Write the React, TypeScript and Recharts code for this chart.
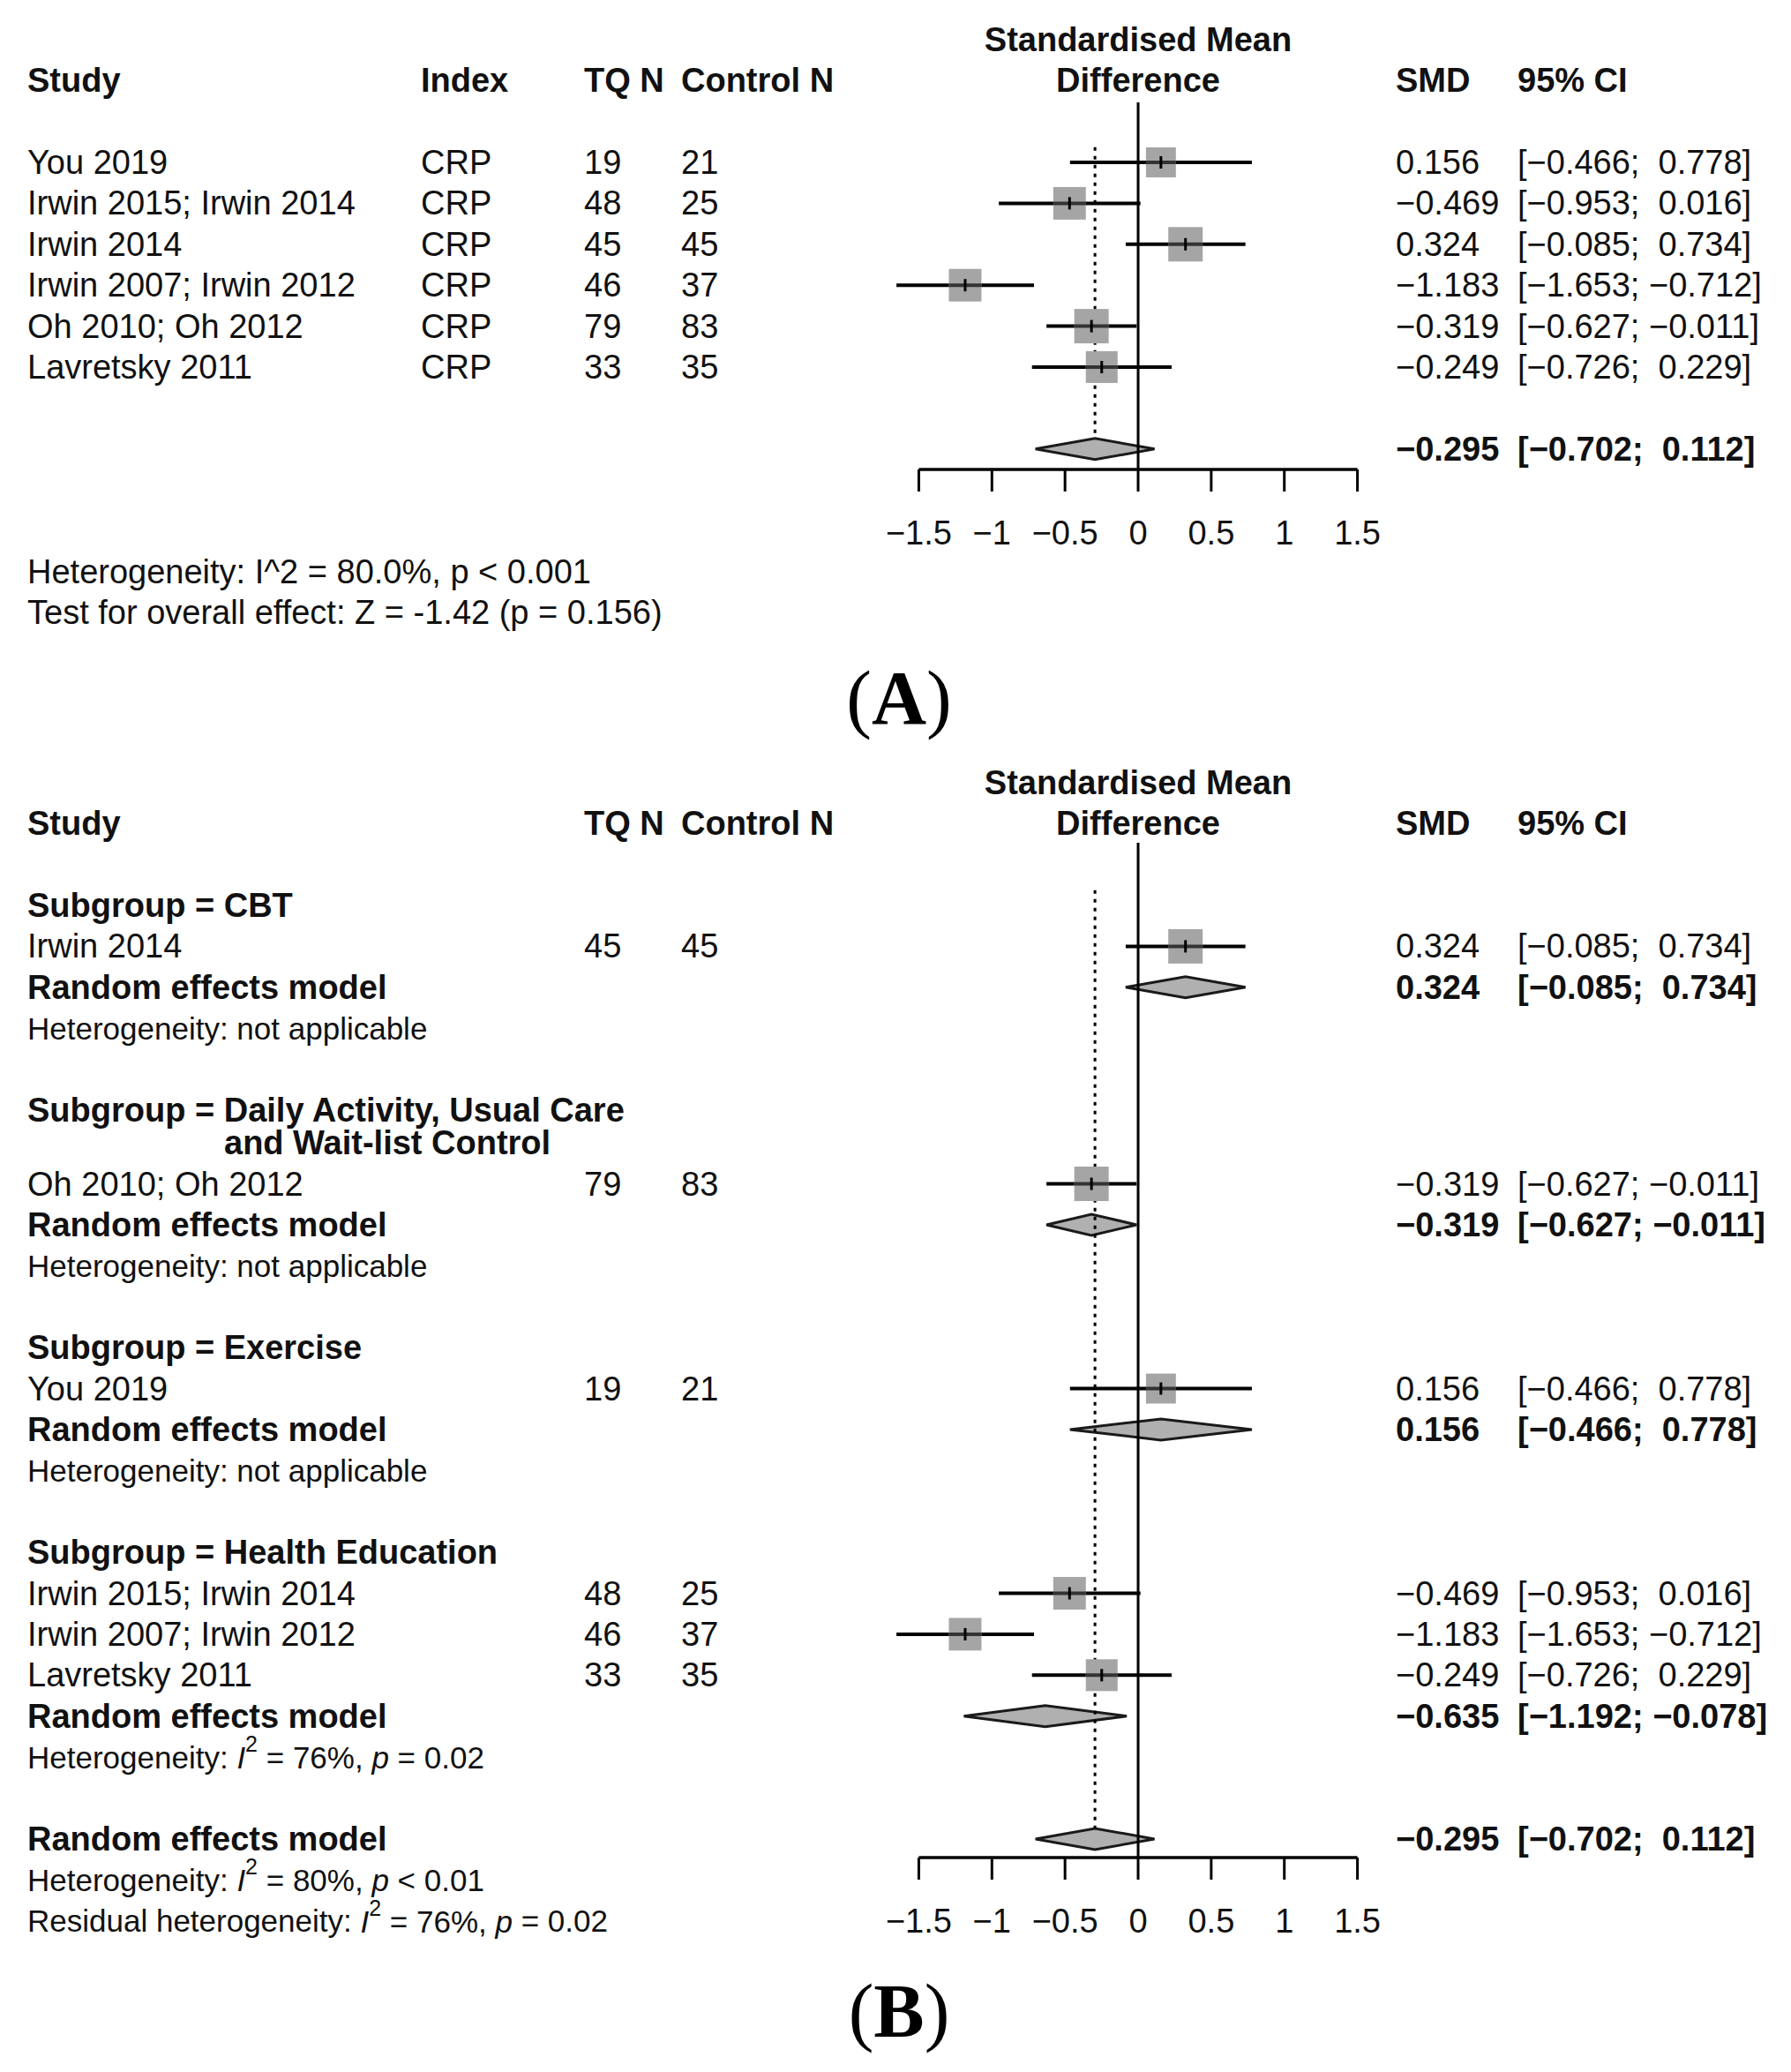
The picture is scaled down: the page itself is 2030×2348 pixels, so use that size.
import React from 'react';
import { ComposedChart, Scatter, ErrorBar, XAxis, YAxis, ReferenceLine, ReferenceArea } from 'recharts';

// ---- data ----
const studies = ['You 2019', 'Irwin 2015; Irwin 2014', 'Irwin 2014', 'Irwin 2007; Irwin 2012', 'Oh 2010; Oh 2012', 'Lavretsky 2011'];
const indexLabels = ['CRP', 'CRP', 'CRP', 'CRP', 'CRP', 'CRP'];
const tqN = [19, 48, 45, 46, 79, 33];
const controlN = [21, 25, 45, 37, 83, 35];
const smd = [0.156, -0.469, 0.324, -1.183, -0.319, -0.249];
const ciLower = [-0.466, -0.953, -0.085, -1.653, -0.627, -0.726];
const ciUpper = [0.778, 0.016, 0.734, -0.712, -0.011, 0.229];
const weights = [14.0, 16.6, 18.5, 16.6, 18.5, 15.8]; // estimated from square sizes

const pooledSmd = -0.295;
const pooledLower = -0.702;
const pooledUpper = 0.112;

const subgroupNames = ['CBT', 'Daily Activity, Usual Care', 'Exercise', 'Health Education'];
const subgroupSecondLine = ['', 'and Wait-list Control', '', ''];
const subgroupMembers = [[2], [4], [0], [1, 3, 5]];
const subgroupSmd = [0.324, -0.319, 0.156, -0.635];
const subgroupLower = [-0.085, -0.627, -0.466, -1.192];
const subgroupUpper = [0.734, -0.011, 0.778, -0.078];
const subgroupI2 = [null, null, null, 76];
const subgroupP = ['', '', '', '= 0.02'];

const xTicks = [-1.5, -1, -0.5, 0, 0.5, 1, 1.5];

// ---- layout ----
const W = 2030;
const ROW = 46.4;
const FS = 38;
const FS_SMALL = 35;
const FONT = '"Liberation Sans", Arial, Helvetica, sans-serif';
const COL = { study: 31, second: 254, index: 477, tq: 662, ctl: 772, smd: 1582, ci: 1720, title: 1290 };
const X_DOMAIN = [-1.75, 1.75];
const AXIS_H = 100;
const maxW = Math.max(...weights);

const fmt = (v: number) => (v < 0 ? '\u2212' : '') + Math.abs(v).toFixed(3);
const fmtCI = (lo: number, hi: number) => `[${fmt(lo)};${hi < 0 ? ' ' : '  '}${fmt(hi)}]`;
const fmtTick = (v: number) => (v < 0 ? '\u2212' + Math.abs(v) : String(v));

const SquareMark = (props: any) => {
  const { cx, cy, payload } = props;
  const s = 39 * Math.sqrt(payload.w / maxW);
  return (
    <g>
      <rect x={cx - s / 2} y={cy - s / 2} width={s} height={s} fill="#a5a5a5" />
      <line x1={cx - s / 2} x2={cx + s / 2} y1={cy} y2={cy} stroke="#333" strokeWidth={4} />
      <line x1={cx} x2={cx} y1={cy - 7} y2={cy + 7} stroke="#000" strokeWidth={3} />
    </g>
  );
};

const diamondShape = (ratio: number) => (p: any) => {
  const cy = p.y + p.height / 2;
  const mid = p.x + p.width * ratio;
  const pts = `${p.x},${cy} ${mid},${cy - 12} ${p.x + p.width},${cy} ${mid},${cy + 12}`;
  return <polygon points={pts} fill="#b0b0b0" stroke="#1a1a1a" strokeWidth={3} />;
};

type Diamond = { k: number; smd: number; lo: number; hi: number };

function Forest({ height, base, plotTop, plotBottom, points, diamonds, dotTop, dotBottom }: any) {
  const yDomain = [(plotTop - base) / ROW, (plotBottom - base) / ROW];
  return (
    <ComposedChart
      width={W}
      height={height}
      margin={{ top: plotTop, right: 450, bottom: height - plotBottom - AXIS_H, left: 1000 }}
    >
      <XAxis
        type="number"
        dataKey="x"
        domain={X_DOMAIN}
        ticks={xTicks}
        interval={0}
        axisLine={false}
        tickLine={{ stroke: '#000', strokeWidth: 3 }}
        tickSize={25}
        tickMargin={33}
        tick={{ fontSize: FS, fill: '#111', fontFamily: FONT }}
        tickFormatter={fmtTick}
        height={AXIS_H}
      />
      <YAxis type="number" dataKey="y" domain={yDomain} reversed hide width={0} />
      {diamonds.map((d: Diamond, i: number) => (
        <ReferenceArea
          key={`dia-${i}`}
          x1={d.lo}
          x2={d.hi}
          y1={d.k - 0.3}
          y2={d.k + 0.3}
          ifOverflow="visible"
          shape={diamondShape((d.smd - d.lo) / (d.hi - d.lo))}
        />
      ))}
      <ReferenceLine x={0} stroke="#000" strokeWidth={3} />
      <ReferenceLine
        segment={[{ x: pooledSmd, y: dotTop }, { x: pooledSmd, y: dotBottom }]}
        stroke="#000"
        strokeWidth={3}
        strokeDasharray="4 6"
        ifOverflow="visible"
      />
      <ReferenceLine
        segment={[{ x: -1.5, y: yDomain[1] }, { x: 1.5, y: yDomain[1] }]}
        stroke="#000"
        strokeWidth={3.5}
        ifOverflow="visible"
      />
      <Scatter data={points} shape={SquareMark} isAnimationActive={false}>
        <ErrorBar dataKey="err" direction="x" width={0} stroke="#000" strokeWidth={4} isAnimationActive={false} />
      </Scatter>
    </ComposedChart>
  );
}

function Txt({ x, y, bold, size = FS, anchor = 'start', children }: any) {
  return (
    <text
      x={x}
      y={y}
      fontSize={size}
      fontWeight={bold ? 700 : 400}
      textAnchor={anchor}
      dominantBaseline="central"
      fill="#111"
      xmlSpace="preserve"
      style={{ whiteSpace: 'pre' }}
    >
      {children}
    </text>
  );
}

function HetI2({ x, y, prefix, i2, p }: any) {
  return (
    <text x={x} y={y} fontSize={FS_SMALL} dominantBaseline="central" fill="#111" xmlSpace="preserve" style={{ whiteSpace: 'pre' }}>
      {prefix}
      <tspan fontStyle="italic">I</tspan>
      <tspan dy={-15} fontSize={25}>2</tspan>
      <tspan dy={15}>{` = ${i2}%, `}</tspan>
      <tspan fontStyle="italic">p</tspan>
      {` ${p}`}
    </text>
  );
}

function PanelLabel({ y, letter }: any) {
  return (
    <text x={1019} y={y} fontSize={86} textAnchor="middle" fill="#000" fontFamily='"Liberation Serif", "Times New Roman", serif'>
      (<tspan fontWeight={700}>{letter}</tspan>)
    </text>
  );
}

// ---- panel A ----
const A_BASE = 184;
const aY = (k: number) => A_BASE + k * ROW;
const aPoints = studies.map((_, i) => ({ x: smd[i], y: i, err: [smd[i] - ciLower[i], ciUpper[i] - smd[i]], w: weights[i] }));
const aDiamonds: Diamond[] = [{ k: 7, smd: pooledSmd, lo: pooledLower, hi: pooledUpper }];

// ---- panel B ----
const B_TOP = 740;
const B_BASE = 1026;
const SECOND_LINE = 0.8; // wrapped subgroup label, in rows
const bY = (k: number) => B_BASE + k * ROW;
const bRows: any[] = [];
let kk = 0;
subgroupNames.forEach((name, g) => {
  bRows.push({ type: 'group', k: kk, label: 'Subgroup = ' + name, label2: subgroupSecondLine[g] });
  if (subgroupSecondLine[g]) kk += SECOND_LINE;
  kk += 1;
  subgroupMembers[g].forEach((i) => {
    bRows.push({ type: 'study', k: kk, i });
    kk += 1;
  });
  bRows.push({ type: 'pooled', k: kk, smd: subgroupSmd[g], lo: subgroupLower[g], hi: subgroupUpper[g] });
  kk += 1;
  bRows.push({ type: 'het', k: kk, g });
  kk += 2;
});
const bOverallK = kk;
const bPoints = bRows
  .filter((r) => r.type === 'study')
  .map((r) => ({ x: smd[r.i], y: r.k, err: [smd[r.i] - ciLower[r.i], ciUpper[r.i] - smd[r.i]], w: weights[r.i] }));
const bDiamonds: Diamond[] = [
  ...bRows.filter((r) => r.type === 'pooled').map((r) => ({ k: r.k, smd: r.smd, lo: r.lo, hi: r.hi })),
  { k: bOverallK, smd: pooledSmd, lo: pooledLower, hi: pooledUpper },
];

export default function App() {
  return (
    <div style={{ position: 'absolute', left: 0, top: 0, width: W, height: 2348, background: '#fff', fontFamily: FONT }}>
      <div style={{ position: 'absolute', left: 0, top: 0 }}>
        <Forest
          height={740}
          base={A_BASE}
          plotTop={116}
          plotBottom={532}
          points={aPoints}
          diamonds={aDiamonds}
          dotTop={-0.37}
          dotBottom={7 - 0.26}
        />
      </div>
      <div style={{ position: 'absolute', left: 0, top: B_TOP }}>
        <Forest
          height={2348 - B_TOP}
          base={B_BASE - B_TOP}
          plotTop={955 - B_TOP}
          plotBottom={2105 - B_TOP}
          points={bPoints}
          diamonds={bDiamonds}
          dotTop={-0.37}
          dotBottom={bOverallK - 0.26}
        />
      </div>
      <svg width={W} height={2348} style={{ position: 'absolute', left: 0, top: 0, pointerEvents: 'none' }} fontFamily={FONT}>
        {/* panel A headers */}
        <Txt x={COL.title} y={aY(-3)} bold anchor="middle">Standardised Mean</Txt>
        <Txt x={COL.title} y={aY(-2)} bold anchor="middle">Difference</Txt>
        <Txt x={COL.study} y={aY(-2)} bold>Study</Txt>
        <Txt x={COL.index} y={aY(-2)} bold>Index</Txt>
        <Txt x={COL.tq} y={aY(-2)} bold>TQ N</Txt>
        <Txt x={COL.ctl} y={aY(-2)} bold>Control N</Txt>
        <Txt x={COL.smd} y={aY(-2)} bold>SMD</Txt>
        <Txt x={COL.ci} y={aY(-2)} bold>95% CI</Txt>
        {studies.map((s, i) => (
          <g key={`a-${i}`}>
            <Txt x={COL.study} y={aY(i)}>{s}</Txt>
            <Txt x={COL.index} y={aY(i)}>{indexLabels[i]}</Txt>
            <Txt x={COL.tq} y={aY(i)}>{tqN[i]}</Txt>
            <Txt x={COL.ctl} y={aY(i)}>{controlN[i]}</Txt>
            <Txt x={COL.smd} y={aY(i)}>{fmt(smd[i])}</Txt>
            <Txt x={COL.ci} y={aY(i)}>{fmtCI(ciLower[i], ciUpper[i])}</Txt>
          </g>
        ))}
        <Txt x={COL.smd} y={aY(7)} bold>{fmt(pooledSmd)}</Txt>
        <Txt x={COL.ci} y={aY(7)} bold>{fmtCI(pooledLower, pooledUpper)}</Txt>
        <Txt x={COL.study} y={aY(10)}>Heterogeneity: I^2 = 80.0%, p &lt; 0.001</Txt>
        <Txt x={COL.study} y={aY(11)}>Test for overall effect: Z = -1.42 (p = 0.156)</Txt>
        <PanelLabel y={820} letter="A" />

        {/* panel B headers */}
        <Txt x={COL.title} y={bY(-3)} bold anchor="middle">Standardised Mean</Txt>
        <Txt x={COL.title} y={bY(-2)} bold anchor="middle">Difference</Txt>
        <Txt x={COL.study} y={bY(-2)} bold>Study</Txt>
        <Txt x={COL.tq} y={bY(-2)} bold>TQ N</Txt>
        <Txt x={COL.ctl} y={bY(-2)} bold>Control N</Txt>
        <Txt x={COL.smd} y={bY(-2)} bold>SMD</Txt>
        <Txt x={COL.ci} y={bY(-2)} bold>95% CI</Txt>
        {bRows.map((r, j) => {
          const y = bY(r.k);
          if (r.type === 'group')
            return (
              <Txt key={j} x={COL.study} y={y} bold>
                {r.label}
                {r.label2 ? (
                  <tspan x={COL.second} dy={SECOND_LINE * ROW}>
                    {r.label2}
                  </tspan>
                ) : null}
              </Txt>
            );
          if (r.type === 'study')
            return (
              <g key={j}>
                <Txt x={COL.study} y={y}>{studies[r.i]}</Txt>
                <Txt x={COL.tq} y={y}>{tqN[r.i]}</Txt>
                <Txt x={COL.ctl} y={y}>{controlN[r.i]}</Txt>
                <Txt x={COL.smd} y={y}>{fmt(smd[r.i])}</Txt>
                <Txt x={COL.ci} y={y}>{fmtCI(ciLower[r.i], ciUpper[r.i])}</Txt>
              </g>
            );
          if (r.type === 'pooled')
            return (
              <g key={j}>
                <Txt x={COL.study} y={y} bold>Random effects model</Txt>
                <Txt x={COL.smd} y={y} bold>{fmt(r.smd)}</Txt>
                <Txt x={COL.ci} y={y} bold>{fmtCI(r.lo, r.hi)}</Txt>
              </g>
            );
          if (subgroupI2[r.g] == null)
            return <Txt key={j} x={COL.study} y={y} size={FS_SMALL}>Heterogeneity: not applicable</Txt>;
          return <HetI2 key={j} x={COL.study} y={y} prefix="Heterogeneity: " i2={subgroupI2[r.g]} p={subgroupP[r.g]} />;
        })}
        <Txt x={COL.study} y={bY(bOverallK)} bold>Random effects model</Txt>
        <Txt x={COL.smd} y={bY(bOverallK)} bold>{fmt(pooledSmd)}</Txt>
        <Txt x={COL.ci} y={bY(bOverallK)} bold>{fmtCI(pooledLower, pooledUpper)}</Txt>
        <HetI2 x={COL.study} y={bY(bOverallK + 1)} prefix="Heterogeneity: " i2={80} p="< 0.01" />
        <HetI2 x={COL.study} y={bY(bOverallK + 2)} prefix="Residual heterogeneity: " i2={76} p="= 0.02" />
        <PanelLabel y={2308} letter="B" />
      </svg>
    </div>
  );
}
